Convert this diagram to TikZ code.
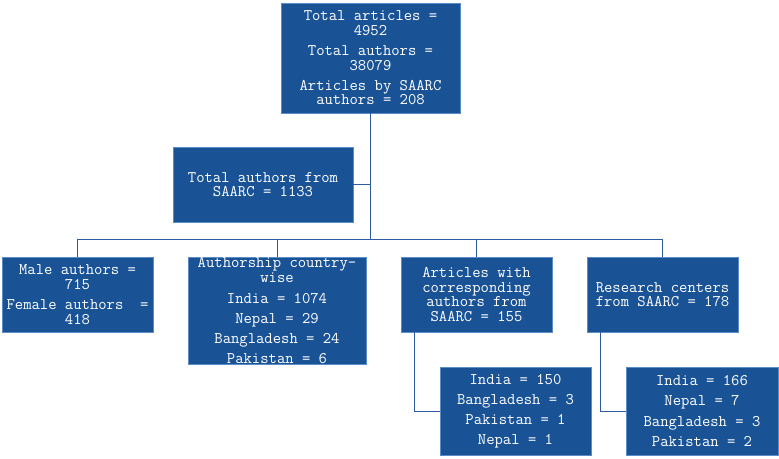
\documentclass[tikz,border=0pt]{standalone}
\usepackage{fontspec}
\definecolor{boxfill}{RGB}{25,83,150}
\definecolor{boxedge}{RGB}{90,140,200}
\definecolor{linkc}{RGB}{45,90,160}
\begin{document}
\begin{tikzpicture}[x=1pt,y=-1pt,
  bx/.style={draw=boxedge,line width=0.8pt,fill=boxfill,text=white,inner sep=0pt,
    align=center,font=\ttfamily\fontsize{16.2}{14.6}\selectfont},
  link/.style={draw=linkc,line width=1pt}]
\useasboundingbox (0,0) rectangle (779,458);
\node[bx,minimum width=179pt,minimum height=110pt] (top) at (370.5,58)
  {Total articles =\\4952\\[5.5pt]Total authors =\\38079\\[5.5pt]Articles by SAARC\\authors = 208};
\node[bx,minimum width=180pt,minimum height=75pt] (saarc) at (263,184.5)
  {Total authors from\\SAARC = 1133};
\node[bx,minimum width=151pt,minimum height=75pt] (male) at (77.5,294.5)
  {Male authors =\\715\\[5.5pt]Female authors\ \ =\\418};
\node[bx,minimum width=178pt,minimum height=107pt] (auth) at (277,310.5)
  {Authorship country-\\wise\\[6.5pt]India = 1074\\[5.5pt]Nepal = 29\\[5.5pt]Bangladesh = 24\\[5.5pt]Pakistan = 6};
\node[bx,minimum width=151pt,minimum height=75pt] (art) at (476.5,294.5)
  {Articles with\\corresponding\\authors from\\SAARC = 155};
\node[bx,minimum width=151pt,minimum height=75pt] (res) at (662.5,294.5)
  {Research centers\\from SAARC = 178};
\node[bx,minimum width=151pt,minimum height=88pt] (artc) at (515.5,411)
  {India = 150\\[5.5pt]Bangladesh = 3\\[5.5pt]Pakistan = 1\\[5.5pt]Nepal = 1};
\node[bx,minimum width=152pt,minimum height=88pt] (resc) at (702,411)
  {India = 166\\[5.5pt]Nepal = 7\\[5.5pt]Bangladesh = 3\\[5.5pt]Pakistan = 2};
\coordinate (bus) at (370.5,239);
\draw[link] (top.south) -- (bus);
\draw[link] (saarc.east) -- (saarc.east -| bus);
\draw[link] (male.north |- bus) -- (res.north |- bus);
\draw[link] (male.north) -- (male.north |- bus);
\draw[link] (auth.north) -- (auth.north |- bus);
\draw[link] (art.north) -- (art.north |- bus);
\draw[link] (res.north) -- (res.north |- bus);
\draw[link] ([xshift=14pt]art.south west) |- (artc.west);
\draw[link] ([xshift=14pt]res.south west) |- (resc.west);
\end{tikzpicture}
\end{document}
